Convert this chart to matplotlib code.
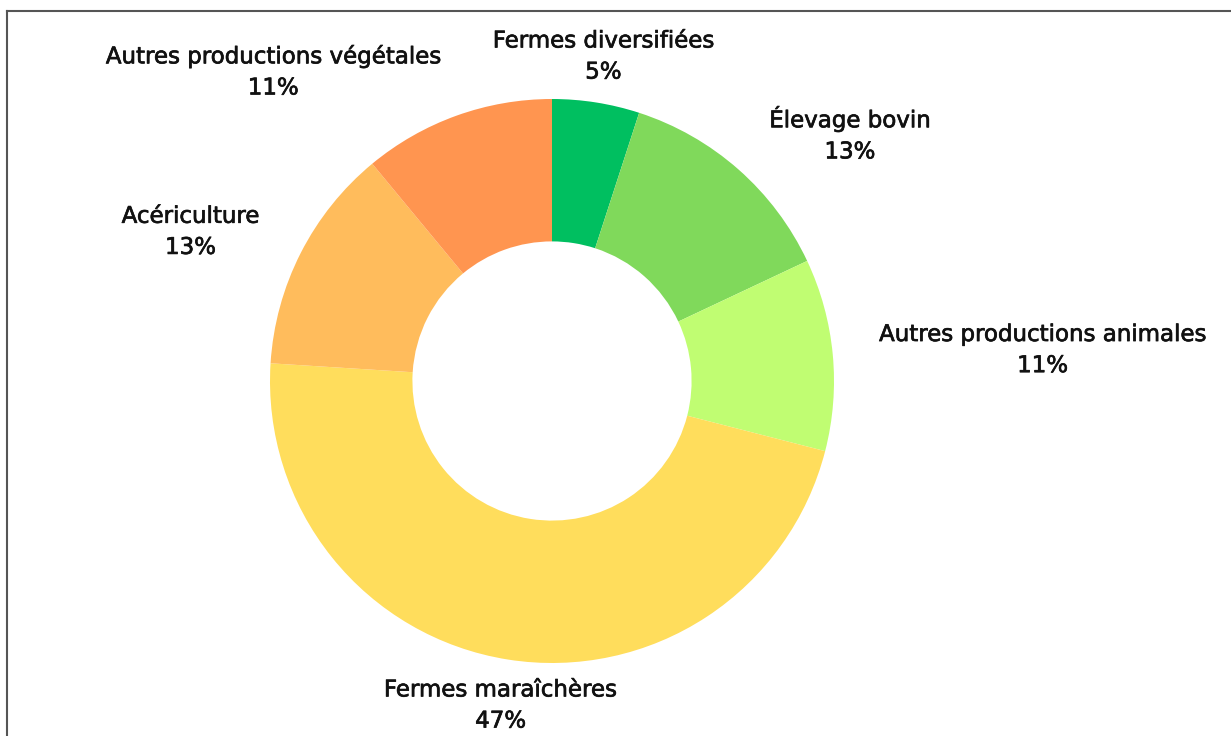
import matplotlib
matplotlib.use('Agg')
import matplotlib.pyplot as plt
import matplotlib.patheffects as pe
import numpy as np

# categories and shares (%), clockwise from 12 o'clock
labels = ['Fermes diversifiées', 'Élevage bovin', 'Autres productions animales',
          'Fermes maraîchères', 'Acériculture', 'Autres productions végétales']
values = [5, 13, 11, 47, 13, 11]
colors = ['#00BF60', '#80D95B', '#C0FD72', '#FFDD5C', '#FFBC5C', '#FF9550']

plt.rcParams['font.family'] = ['DejaVu Sans']

fig = plt.figure(figsize=(12.31, 7.36), dpi=100)
ax = fig.add_axes([0, 0, 1, 1])

wedges, _ = ax.pie(values, colors=colors, startangle=90, counterclock=False,
                   radius=1, wedgeprops=dict(width=0.505, linewidth=0))

# donut centred at pixel (552, 381), outer radius 282 px -> 1 data unit
cx, cy, R = 552, 381, 282
ax.set_xlim(-cx / R, (1231 - cx) / R)
ax.set_ylim(-(736 - cy) / R, cy / R)
ax.set_aspect('equal')
ax.axis('off')

# labels outside each wedge
total = sum(values)
cum = 0
for lab, v in zip(labels, values):
    mid = np.deg2rad(90 - (cum + v / 2) / total * 360)
    cum += v
    r = 1.165
    x, y = r * np.cos(mid), r * np.sin(mid)
    c = np.cos(mid)
    if c > 0.25:
        ha = 'left'
    elif c < -0.25:
        ha = 'right'
    else:
        ha = 'center'
    ax.text(x, y, f'{lab}\n{v}%', ha=ha, va='center', multialignment='center',
            fontsize=16.5, color='#111111', linespacing=1.45,
            path_effects=[pe.withStroke(linewidth=0.5, foreground='#111111')])

# thin frame on top and left edges
fig.add_artist(plt.Line2D([7 / 1231, 7 / 1231], [0, 1 - 11 / 736],
                          color='#555555', lw=1.5))
fig.add_artist(plt.Line2D([7 / 1231, 1], [1 - 11 / 736, 1 - 11 / 736],
                          color='#555555', lw=1.5))

fig.savefig('out.png', dpi=100, facecolor='white')
